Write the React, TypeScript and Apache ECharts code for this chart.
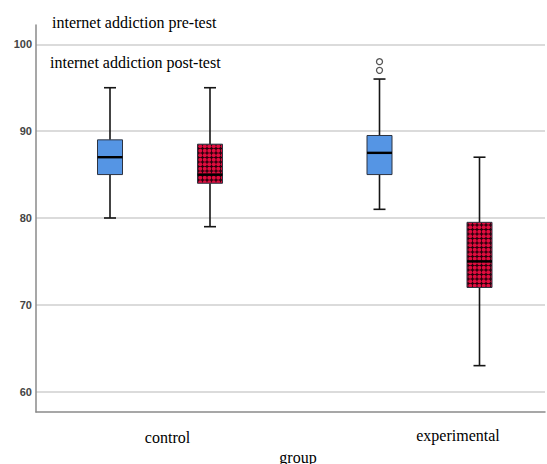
import React, { useEffect, useRef } from 'react';
import * as echarts from 'echarts';

// ---- data ----
const groups = ['control', 'experimental'];
const seriesNames = ['internet addiction pre-test', 'internet addiction post-test'];
// [min, Q1, median, Q3, max]
const preTest = [
  [80, 85, 87, 89, 95],
  [81, 85, 87.5, 89.5, 96],
];
const postTest = [
  [79, 84, 85, 88.5, 95],
  [63, 72, 75, 79.5, 87],
];
const preTestOutliers: number[][] = [[], [97, 98]];
const postTestOutliers: number[][] = [[], []];
const yTicks = [60, 70, 80, 90, 100];
const xTitle = 'group';

function makePattern() {
  const c = document.createElement('canvas');
  c.width = 9;
  c.height = 9;
  const ctx = c.getContext('2d')!;
  ctx.fillStyle = '#2a000c';
  ctx.fillRect(0, 0, 9, 9);
  ctx.fillStyle = '#e00c3e';
  for (const [x, y] of [[2.25, 2.25], [6.75, 2.25], [2.25, 6.75], [6.75, 6.75]]) {
    ctx.beginPath();
    ctx.arc(x, y, 2.0, 0, Math.PI * 2);
    ctx.fill();
  }
  return c;
}

export default function App() {
  const ref = useRef<HTMLDivElement>(null);
  useEffect(() => {
    if (!ref.current) return;
    const chart = echarts.init(ref.current, undefined, { renderer: 'svg' });
    const redFill: any = { image: makePattern(), repeat: 'repeat' };
    const blueFill = '#5595e4';

    const W = 547;
    const GRID_LEFT = 36;
    const GRID_RIGHT = 2;
    const plotW = W - GRID_LEFT - GRID_RIGHT;
    const c0 = 160;
    const c1 = 429.5;
    const pxPerUnit = c1 - c0;
    const xMin = -(c0 - GRID_LEFT) / pxPerUnit;
    const xMax = xMin + plotW / pxPerUnit;

    const line = (x1: number, y1: number, x2: number, y2: number, w: number, color = '#151515') => ({
      type: 'line',
      shape: { x1, y1, x2, y2 },
      style: { stroke: color, lineWidth: w },
    });

    const makeBoxSeries = (name: string, stats: number[][], offset: number, fill: any) => ({
      type: 'custom',
      name,
      xAxisIndex: 1,
      yAxisIndex: 1,
      data: groups.map((g, i) => [i, ...stats[i]]),
      renderItem: (params: any, api: any) => {
        const gx = api.value(0);
        const cx = api.coord([gx, api.value(1)])[0] + offset;
        const yv = (k: number) => api.coord([gx, api.value(k)])[1];
        const yMin = yv(1), yQ1 = yv(2), yMed = yv(3), yQ3 = yv(4), yMax = yv(5);
        const hw = 12.5, cw = 6;
        return {
          type: 'group',
          children: [
            line(cx, yMax, cx, yQ3, 1.6),
            line(cx, yQ1, cx, yMin, 1.6),
            line(cx - cw, yMax, cx + cw, yMax, 1.6),
            line(cx - cw, yMin, cx + cw, yMin, 1.6),
            {
              type: 'rect',
              shape: { x: cx - hw, y: yQ3, width: 2 * hw, height: yQ1 - yQ3 },
              style: { fill, stroke: '#2d3340', lineWidth: 1 },
            },
            line(cx - hw, yMed, cx + hw, yMed, 2.4, '#000'),
          ],
        };
      },
    });

    const makeOutlierSeries = (name: string, outs: number[][], offset: number) => ({
      type: 'custom',
      name: name + ' outliers',
      xAxisIndex: 1,
      yAxisIndex: 1,
      data: outs.flatMap((arr, i) => arr.map((v) => [i, v])),
      renderItem: (params: any, api: any) => {
        const p = api.coord([api.value(0), api.value(1)]);
        return {
          type: 'circle',
          shape: { cx: p[0] + offset, cy: p[1], r: 3 },
          style: { fill: '#fff', stroke: '#555', lineWidth: 1.3 },
        };
      },
    });

    const txt = (text: string, x: number, y: number, align = 'left') => ({
      type: 'text',
      x,
      y,
      style: {
        text,
        fill: '#000',
        fontSize: 16,
        fontFamily: 'Liberation Serif',
        textAlign: align,
        textVerticalAlign: 'middle',
      },
    });

    chart.setOption({
      animation: false,
      grid: [
        { left: GRID_LEFT, right: GRID_RIGHT, top: 25, bottom: 52 },
        { left: GRID_LEFT, right: GRID_RIGHT, top: 44.3, bottom: 464 - 391.7 },
      ],
      xAxis: [
        {
          gridIndex: 0,
          type: 'value',
          min: 0,
          max: 1,
          axisLine: { show: true, onZero: false, lineStyle: { color: '#8a8a8a', width: 1.5 } },
          axisTick: { show: false },
          axisLabel: { show: false },
          splitLine: { show: false },
        },
        {
          gridIndex: 1,
          type: 'value',
          min: xMin,
          max: xMax,
          show: false,
        },
      ],
      yAxis: [
        {
          gridIndex: 0,
          type: 'value',
          min: 0,
          max: 1,
          axisLine: { show: true, onZero: false, lineStyle: { color: '#8a8a8a', width: 1.5 } },
          axisTick: { show: false },
          axisLabel: { show: false },
          splitLine: { show: false },
        },
        {
          gridIndex: 1,
          type: 'value',
          min: yTicks[0],
          max: yTicks[yTicks.length - 1],
          interval: yTicks[1] - yTicks[0],
          axisLine: { show: false },
          axisTick: { show: false },
          axisLabel: {
            margin: 4,
            color: '#444',
            fontSize: 11,
            fontWeight: 'bold',
            fontFamily: 'Liberation Sans',
          },
          splitLine: { show: true, lineStyle: { color: '#cfcfcf', width: 1.5 } },
        },
      ],
      series: [
        makeBoxSeries(seriesNames[0], preTest, -50, blueFill),
        makeBoxSeries(seriesNames[1], postTest, 50, redFill),
        makeOutlierSeries(seriesNames[0], preTestOutliers, -50),
        makeOutlierSeries(seriesNames[1], postTestOutliers, 50),
      ],
      graphic: [
        txt(seriesNames[0], 52, 22),
        txt(seriesNames[1], 50, 62),
        txt(groups[0], 167.5, 437, 'center'),
        txt(groups[1], 458, 435, 'center'),
        txt(xTitle, 298, 457, 'center'),
      ],
    });
    return () => chart.dispose();
  }, []);
  return (
    <div
      ref={ref}
      style={{ position: 'fixed', left: 0, top: 0, width: 547, height: 464, background: '#fff' }}
    />
  );
}
